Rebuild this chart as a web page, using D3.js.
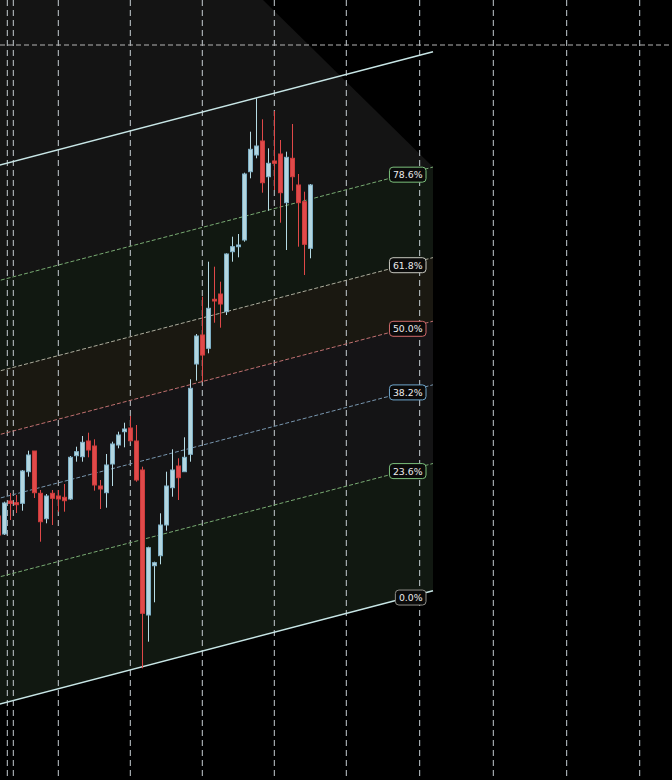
<!DOCTYPE html>
<html>
<head>
<meta charset="utf-8">
<script src="https://cdn.jsdelivr.net/npm/d3@7"></script>
<style>
  html, body { margin: 0; padding: 0; background: #000; }
  svg { display: block; }
</style>
</head>
<body>
<div id="chart"></div>
<script>
// ---------- DATA ----------
// bar index for each candle
const barIndex = [-1,0,1,2,3,4,5,6,7,8,9,10,11,12,13,14,15,16,17,18,19,20,21,22,23,24,25,26,27,28,29,30,31,32,33,34,35,36,37,38,39,40,41,42,43,44,45,46,47,48,49,50,51];
const openP  = [126.4,124.6,127.9,127.73,127.67,130.83,132.9,128.67,126.13,128.67,128.4,128.27,128.1,132.43,132.33,133.9,133.4,129.4,128.73,131.6,133.5,134.83,135.2,133.9,131.0,116.5,121.43,122.43,125.5,129.23,131.4,130.83,132.57,141.6,144.5,143.17,148.07,148.6,146.83,152.83,153.33,154.0,160.83,162.5,163.9,160.33,161.9,162.6,157.73,162.17,159.5,157.83,153.17];
const highP  = [126.8,127.83,128.7,128.5,131.0,132.93,132.9,129.0,128.6,129.0,129.0,129.6,132.4,133.33,134.4,134.73,134.07,130.0,132.6,133.83,134.83,135.73,136.4,135.5,131.33,123.33,121.83,126.67,130.83,133.07,132.17,134.27,140.07,144.6,148.33,151.83,151.33,149.83,152.67,154.33,154.6,160.73,164.83,168.17,166.07,163.17,166.9,164.0,162.83,165.6,160.6,158.83,159.6];
const lowP   = [124.0,124.5,126.0,126.7,126.93,130.33,128.2,123.83,125.67,125.5,126.83,126.83,128.0,131.83,131.83,132.27,128.93,127.1,127.23,129.4,133.17,133.27,133.83,129.83,111.17,113.83,117.77,121.57,124.93,128.33,128.0,131.83,131.83,139.93,139.83,142.67,145.73,145.23,146.5,151.83,152.27,153.83,160.17,162.17,158.73,156.93,159.0,155.73,153.0,158.93,153.33,150.5,152.17];
const closeP = [124.5,127.7,127.65,127.53,130.9,132.5,128.73,125.83,128.4,128.17,128.1,127.93,132.27,132.83,133.77,133.0,129.5,129.1,131.5,133.6,134.5,135.1,133.93,130.0,116.67,123.23,121.73,125.5,129.4,131.0,130.23,132.27,139.17,144.4,142.5,147.17,147.9,147.6,152.6,153.33,153.5,160.6,163.07,163.4,159.73,161.67,161.67,158.73,162.27,160.33,157.73,153.57,159.5];

// Fibonacci channel
const fibLevels = [0, 0.236, 0.382, 0.5, 0.618, 0.786, 1];
const fibLabels = ["0.0%", "23.6%", "38.2%", "50.0%", "61.8%", "78.6%", ""];
const channelBars = [-1, 71.45];        // start / end bar index
const channelLow  = [107.56, 118.93];   // 0% price at start / end
const channelHeight = 53.9;             // price distance 0% -> 100%
const cutStartBar = 43.12;              // where the shaded area's diagonal cut begins (top)

// grid (bar index positions) and horizontal price line
const gridBars = [0.5, 1.5, 9, 21, 33, 45, 57, 69.23, 81.5, 93.73, 105.9];
const priceLine = 173.5;

// ---------- STYLE ----------
const W = 672, H = 780;
const bandColors = ["#111811", "#141415", "#151416", "#1a1811", "#111811", "#141414"];
const lineColors = ["#c8e6e6", "#78aa72", "#7896ae", "#c07070", "#acac9c", "#78aa72", "#c8e6e6"];
const labelBorders = ["#8e8e88", "#7cc07c", "#6fa6cc", "#d06a6a", "#c8c8c0", "#7cc07c", ""];

const x = d3.scaleLinear().domain([0, 51]).range([4.3, 310.3]);
const y = d3.scaleLinear().domain([100, 178]).range([780, 0]);

const svg = d3.select("#chart").append("svg").attr("width", W).attr("height", H);
svg.append("rect").attr("width", W).attr("height", H).attr("fill", "#000");

// channel helper: price of a level at a bar index
const slope = (channelLow[1] - channelLow[0]) / (channelBars[1] - channelBars[0]);
const levelPrice = (lvl, bar) => channelLow[0] + slope * (bar - channelBars[0]) + lvl * channelHeight;

const b0 = x.invert(-5), b1 = channelBars[1];

// shaded plot area
const area = [
  [b0, 178],
  [cutStartBar, 178],
  [b1, levelPrice(0.786, b1)],
  [b1, levelPrice(0, b1)],
  [b0, levelPrice(0, b0)]
];
svg.append("path")
  .attr("d", d3.line().x(d => x(d[0])).y(d => y(d[1]))(area) + "Z")
  .attr("fill", "#141414");

// bands
for (let k = 0; k < fibLevels.length - 2; k++) {
  const l0 = fibLevels[k], l1 = fibLevels[k + 1];
  const pts = [[b0, levelPrice(l0, b0)], [b1, levelPrice(l0, b1)], [b1, levelPrice(l1, b1)], [b0, levelPrice(l1, b0)]];
  svg.append("path")
    .attr("d", d3.line().x(d => x(d[0])).y(d => y(d[1]))(pts) + "Z")
    .attr("fill", bandColors[k]);
}

// vertical grid
svg.append("g").selectAll("line").data(gridBars).join("line")
  .attr("x1", d => x(d)).attr("x2", d => x(d))
  .attr("y1", 0).attr("y2", H)
  .attr("stroke", "#c6ced3").attr("stroke-width", 1)
  .attr("stroke-dasharray", "6,4");

// horizontal price line
svg.append("line")
  .attr("x1", 0).attr("x2", W)
  .attr("y1", y(priceLine)).attr("y2", y(priceLine))
  .attr("stroke", "#b4b4b4").attr("stroke-width", 1)
  .attr("stroke-dasharray", "5,3");

// fib lines
fibLevels.forEach((lvl, k) => {
  const solid = (lvl === 0 || lvl === 1);
  svg.append("line")
    .attr("x1", x(b0)).attr("y1", y(levelPrice(lvl, b0)))
    .attr("x2", x(b1)).attr("y2", y(levelPrice(lvl, b1)))
    .attr("stroke", lineColors[k])
    .attr("stroke-width", solid ? 1.4 : 1)
    .attr("stroke-dasharray", solid ? null : "4,2");
});

// candles
const candles = barIndex.map((b, i) => ({ b, o: openP[i], h: highP[i], l: lowP[i], c: closeP[i] }));
const cg = svg.append("g");
cg.selectAll("line").data(candles).join("line")
  .attr("x1", d => Math.round(x(d.b)) + 0.5).attr("x2", d => Math.round(x(d.b)) + 0.5)
  .attr("y1", d => y(d.h)).attr("y2", d => y(d.l))
  .attr("stroke", d => d.c >= d.o ? "#b6dbe4" : "#e04848")
  .attr("stroke-width", 1);
cg.selectAll("rect").data(candles).join("rect")
  .attr("x", d => Math.round(x(d.b)) - 1.5)
  .attr("width", 4)
  .attr("y", d => y(Math.max(d.o, d.c)))
  .attr("height", d => Math.max(1.5, Math.abs(y(d.o) - y(d.c))))
  .attr("fill", d => d.c >= d.o ? "#b3d6e0" : "#e04a4a")
  .attr("stroke", d => d.c >= d.o ? "#7fb0c6" : "#cc3c3c")
  .attr("stroke-width", 1);

// labels
const labelRightBar = x.invert(426);
fibLevels.forEach((lvl, k) => {
  if (!fibLabels[k]) return;
  const g = svg.append("g");
  const t = g.append("text")
    .attr("font-family", "DejaVu Sans, sans-serif")
    .attr("font-size", 9.3)
    .attr("fill", "#ececec")
    .attr("text-anchor", "end")
    .text(fibLabels[k]);
  const tw = t.node().getComputedTextLength();
  const bw = tw + 7, bh = 15;
  const right = x(labelRightBar);
  const cx = right - bw / 2;
  const cy = y(levelPrice(lvl, x.invert(cx))) + 1;
  g.insert("rect", "text")
    .attr("x", right - bw).attr("y", cy - bh / 2)
    .attr("width", bw).attr("height", bh)
    .attr("rx", 3.5).attr("ry", 3.5)
    .attr("fill", "#0a0a0a")
    .attr("stroke", labelBorders[k]).attr("stroke-width", 1);
  t.attr("x", right - 3.5).attr("y", cy + 3.4);
});
</script>
</body>
</html>
